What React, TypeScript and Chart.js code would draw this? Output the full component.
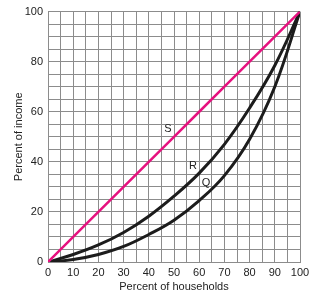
import React, { useEffect, useRef } from "react";
import { Chart, registerables } from "chart.js";

Chart.register(...registerables);

const households = [0, 10, 20, 30, 40, 50, 60, 70, 80, 90, 100];
const lineS = [0, 10, 20, 30, 40, 50, 60, 70, 80, 90, 100];
const curveR = [0, 3, 6.8, 11.8, 18.3, 26.3, 35.5, 47, 61.5, 78.5, 100];
const curveQ = [0, 1, 3, 6.2, 11, 16.7, 24.5, 34.5, 49, 70, 100];
const curveLabels = ["S", "R", "Q"];
const curveLabelX = [47.6, 57.5, 62.7];
const curveLabelY = [53, 38.5, 31.7];

const FONT = "'Liberation Sans', Arial, Helvetica, sans-serif";

const labelPlugin = {
  id: "curveLabels",
  afterDatasetsDraw(chart: any) {
    const { ctx, scales } = chart;
    ctx.save();
    ctx.font = `11px ${FONT}`;
    ctx.fillStyle = "#222";
    ctx.textAlign = "center";
    ctx.textBaseline = "middle";
    curveLabels.forEach((t, i) => {
      ctx.fillText(t, scales.x.getPixelForValue(curveLabelX[i]), scales.y.getPixelForValue(curveLabelY[i]));
    });
    ctx.restore();
  },
};

export default function App() {
  const ref = useRef<HTMLCanvasElement>(null);
  useEffect(() => {
    document.body.style.margin = "0";
    const toPts = (ys: number[]) => households.map((x, i) => ({ x, y: ys[i] }));
    const chart = new Chart(ref.current!, {
      type: "line",
      data: {
        datasets: [
          { data: toPts(lineS), borderColor: "#e6127f", borderWidth: 2.5, pointRadius: 0, tension: 0 },
          { data: toPts(curveR), borderColor: "#1c1c1c", borderWidth: 3, pointRadius: 0, tension: 0.4 },
          { data: toPts(curveQ), borderColor: "#1c1c1c", borderWidth: 3, pointRadius: 0, tension: 0.4 },
        ],
      },
      options: {
        animation: false,
        responsive: false,
        events: [],
        layout: { padding: { top: 9, right: 15, left: 0, bottom: 0 } },
        plugins: { legend: { display: false }, tooltip: { enabled: false } },
        scales: {
          x: {
            type: "linear",
            min: 0,
            max: 100,
            ticks: {
              stepSize: 5,
              autoSkip: false,
              maxRotation: 0,
              padding: 4,
              color: "#222",
              font: { family: FONT, size: 11 },
              callback: (v: any) => (v % 10 === 0 ? String(v) : ""),
            },
            grid: { color: "#8c8c8c", lineWidth: 1, drawTicks: false, tickLength: 0 },
            border: { color: "#8c8c8c" },
            title: { display: true, text: "Percent of households", color: "#222", font: { family: FONT, size: 11 }, padding: { top: 2, bottom: 2 } },
            afterFit: (s: any) => { s.height = 34; },
          },
          y: {
            min: 0,
            max: 100,
            ticks: {
              stepSize: 5,
              autoSkip: false,
              padding: 5,
              color: "#222",
              font: { family: FONT, size: 11 },
              callback: (v: any) => (v % 20 === 0 ? String(v) : ""),
            },
            grid: { color: "#8c8c8c", lineWidth: 1, drawTicks: false, tickLength: 0 },
            border: { color: "#8c8c8c" },
            title: { display: true, text: "Percent of income", color: "#222", font: { family: FONT, size: 11 }, padding: { top: 12, bottom: 4 } },
            afterFit: (s: any) => { s.width = 48; },
          },
        },
      },
      plugins: [labelPlugin],
    } as any);
    return () => chart.destroy();
  }, []);
  return (
    <div style={{ width: 315, height: 296 }}>
      <canvas ref={ref} width={315} height={296} style={{ display: "block" }} />
    </div>
  );
}
